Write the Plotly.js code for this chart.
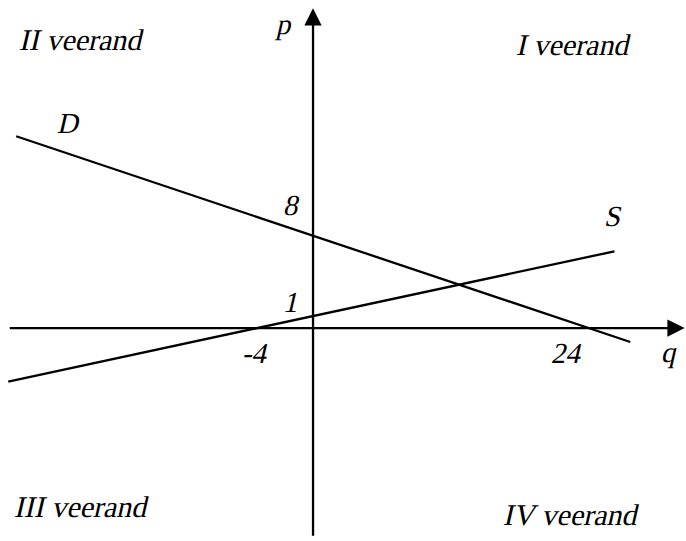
<!DOCTYPE html>
<html>
<head>
<meta charset="utf-8">
<script src="https://cdn.plot.ly/plotly-3.0.1.min.js"></script>
<style>
html,body{margin:0;padding:0;background:#fff;}
#chart{width:686px;height:541px;}
/* Liberation Serif has no italic face here: slant the roman face instead */
#chart text.annotation-text{transform-box:fill-box;transform-origin:center;transform:skewX(-13deg);}
</style>
</head>
<body>
<div id="chart"></div>
<script>
// Demand line D (q, p) endpoints
var demandQ = [-26.2, 28.0];
var demandP = [16.5, -1.2];
// Supply line S
var supplyQ = [-26.9, 26.6];
var supplyP = [-4.6, 6.6];
// Axis tick labels
var pTicks = ["8", "1"];
var qTicks = ["-4", "24"];
var quadrantLabels = ["I veerand", "II veerand", "III veerand", "IV veerand"];

var W = 686, H = 541;
function px(x){ return x / W; }
function py(y){ return 1 - y / H; }

var fontFam = "Liberation Serif";
var lineStyle = {color: "#000", width: 2.3};

var traces = [
  {x: demandQ, y: demandP, mode: "lines", line: lineStyle, hoverinfo: "skip", name: "D"},
  {x: supplyQ, y: supplyP, mode: "lines", line: lineStyle, hoverinfo: "skip", name: "S"}
];

function lbl(text, x, y, size){
  return {text: text, xref: "paper", yref: "paper", x: px(x), y: py(y),
    xanchor: "center", yanchor: "middle", showarrow: false,
    font: {family: fontFam, size: size || 28, color: "#000"}};
}

var annotations = [
  // axes with arrowheads
  {x: 32.8, y: 0, ax: -26.9, ay: 0, xref: "x", yref: "y", axref: "x", ayref: "y",
   text: "", showarrow: true, arrowhead: 2, arrowwidth: 2.3, arrowsize: 1.5, arrowcolor: "#000", standoff: 0},
  {x: 0, y: 27.5, ax: 0, ay: -18.0, xref: "x", yref: "y", axref: "x", ayref: "y",
   text: "", showarrow: true, arrowhead: 2, arrowwidth: 2.3, arrowsize: 1.5, arrowcolor: "#000", standoff: 0},
  lbl(quadrantLabels[0], 574, 45, 30),
  lbl(quadrantLabels[1], 82, 39, 30),
  lbl(quadrantLabels[2], 82, 506, 30),
  lbl(quadrantLabels[3], 572, 514, 30),
  lbl("p", 285, 24, 29),
  lbl("q", 670, 352, 29),
  lbl("D", 69, 123, 29),
  lbl("S", 614, 216, 29),
  lbl(pTicks[0], 292, 205, 29),
  lbl(pTicks[1], 292, 302, 29),
  lbl(qTicks[0], 256, 353, 29),
  lbl(qTicks[1], 568, 353, 29)
];

var layout = {
  width: W, height: H,
  margin: {l: 0, r: 0, t: 0, b: 0},
  paper_bgcolor: "#fff", plot_bgcolor: "#fff",
  showlegend: false,
  font: {family: fontFam},
  xaxis: {range: [-27.63, 32.92], visible: false, fixedrange: true},
  yaxis: {range: [-18.32, 28.22], visible: false, fixedrange: true},
  annotations: annotations
};

Plotly.newPlot("chart", traces, layout, {displayModeBar: false, staticPlot: true});
</script>
</body>
</html>
